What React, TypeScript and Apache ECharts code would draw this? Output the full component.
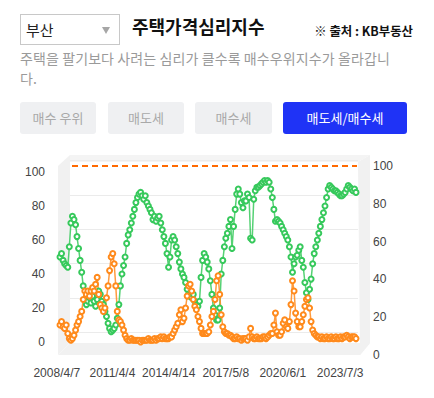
import React, { useEffect, useRef } from 'react';
import * as echarts from 'echarts';

const region = '부산';
const title = '주택가격심리지수';
const source = '※ 출처 : KB부동산';
const descriptionLines = ['주택을 팔기보다 사려는 심리가 클수록 매수우위지수가 올라갑니', '다.'];
const tabs = ['매수 우위', '매도세', '매수세', '매도세/매수세'];
const activeTab = 3;

// monthly observations starting 2008-04
const startYear = 2008;
const startMonth = 4;

// 매도세 (green)
const sellerSide = [
  50, 52, 48, 46, 45, 44, 56, 70, 74, 72,
  69, 62, 55, 48, 41, 33, 25, 22, 24, 26,
  23, 27, 24, 21, 25, 30, 28, 24, 22, 18,
  15, 11, 8, 6, 7, 8, 10, 14, 22, 33,
  40, 45, 50, 58, 63, 66, 70, 74, 78, 82,
  85, 87, 88, 86, 84, 86, 82, 80, 78, 76,
  72, 74, 71, 73, 74, 70, 66, 62, 58, 52,
  44, 50, 60, 62, 60, 56, 52, 47, 43, 40,
  38, 35, 31, 28, 27, 26, 28, 24, 22, 21,
  24, 38, 48, 52, 50, 47, 43, 36, 28, 20,
  16, 13, 13, 20, 40, 48, 56, 61, 64, 68,
  72, 55, 68, 78, 87, 90, 87, 82, 79, 83,
  83, 87, 85, 61, 60, 84, 89, 91, 91, 92,
  93, 94, 95, 94, 95, 94, 90, 85, 78, 71,
  72, 71, 70, 68, 66, 64, 62, 60, 56, 50,
  41, 46, 50, 51, 54, 56, 48, 44, 35, 29,
  25, 31, 37, 46, 52, 56, 60, 64, 68, 72,
  76, 80, 85, 90, 92, 91, 90, 89, 89, 88,
  87, 86, 86, 87, 88, 90, 92, 91, 90, 89,
  90, 88,
];

// 매수세 (orange)
const buyerSide = [
  10, 12, 9, 8, 10, 5, 2, 1, 2, 4,
  7, 10, 12, 15, 18, 25, 30, 28, 30, 27,
  30, 32, 30, 34, 38, 28, 22, 20, 18, 20,
  26, 33, 42, 50, 52, 46, 33, 18, 13, 12,
  10, 7, 4, 2, 1, 1, 2, 1, 1, 1,
  1, 1, 0, 1, 1, 1, 1, 2, 1, 1,
  1, 2, 1, 2, 2, 3, 2, 3, 2, 2,
  2, 3, 3, 5, 7, 9, 11, 16, 19, 12,
  14, 20, 27, 33, 34, 30, 25, 21, 19, 15,
  12, 8, 5, 5, 5, 5, 6, 10, 15, 18,
  25, 36, 39, 28, 16, 9, 6, 5, 5, 4,
  4, 3, 2, 2, 3, 2, 2, 1, 2, 2,
  2, 1, 3, 8, 3, 2, 2, 3, 2, 2,
  2, 3, 3, 2, 3, 4, 5, 5, 10, 17,
  6, 4, 4, 6, 11, 13, 9, 8, 12, 22,
  36, 30, 17, 12, 9, 9, 12, 16, 21, 25,
  26, 20, 12, 7, 5, 4, 3, 3, 2, 3,
  2, 2, 3, 2, 2, 3, 2, 2, 3, 2,
  2, 3, 2, 3, 3, 4, 3, 2, 3, 3,
  3, 2,
];

const tickLabels = ['2008/4/7', '2011/4/4', '2014/4/14', '2017/5/8', '2020/6/1', '2023/7/3'];
const referenceLevel = 100;
const axisMin = 0;
const axisMax = 100;
const axisStep = 20;

const GREEN = '#37c95c';
const ORANGE = '#ff8a1c';
const DASH = '#ff6a00';
const LABEL = '#444';
const WALL = '#f1f1f1';

const monthTime = (i: number) => {
  const t = startMonth - 1 + i;
  return new Date(startYear + Math.floor(t / 12), t % 12, 1).getTime();
};
const parseLabel = (s: string) => {
  const [y, m, d] = s.split('/').map(Number);
  return new Date(y, m - 1, d).getTime();
};
const fmt = (v: number) => {
  const d = new Date(v);
  return `${d.getFullYear()}/${d.getMonth() + 1}/${d.getDate()}`;
};

export default function App() {
  const ref = useRef<HTMLDivElement>(null);
  useEffect(() => {
    if (!ref.current) return;
    const chart = echarts.init(ref.current, undefined, { renderer: 'svg' });
    const times = sellerSide.map((_, i) => monthTime(i));
    const labelFont = { color: LABEL, fontFamily: 'Liberation Sans, Arial, sans-serif', fontSize: 12 };
    const poly = (points: number[][], fill: string) => ({
      type: 'polygon', z: -10, silent: true, shape: { points }, style: { fill },
    });
    chart.setOption({
      animation: false,
      graphic: [
        poly([[70, 155], [370, 155], [358, 162], [70, 162]], '#f4f4f4'),
        poly([[58, 355], [70, 343], [370, 343], [360, 355]], WALL),
        poly([[58, 166], [70, 155], [70, 343], [58, 355]], WALL),
        poly([[358, 162], [370, 155], [370, 343], [360, 355]], WALL),
      ],
      grid: [
        { left: 60, top: 172, width: 296, height: 170 },
        { left: 72, top: 166, width: 285, height: 189 },
        { left: 70, top: 160.7, width: 288, height: 171.5 },
      ],
      xAxis: [
        {
          gridIndex: 0, type: 'value', min: times[0], max: times[times.length - 1],
          axisLine: { show: false }, axisTick: { show: false }, splitLine: { show: false },
          axisLabel: {
            ...labelFont, margin: 25, padding: [0, 7, 0, 0],
            customValues: tickLabels.map(parseLabel),
            formatter: (v: number) => fmt(v),
            showMinLabel: true, showMaxLabel: true, hideOverlap: false,
          },
        },
        { gridIndex: 1, type: 'category', data: ['', ''], boundaryGap: false, show: false },
        { gridIndex: 2, type: 'value', min: 0, max: 1, show: false },
      ],
      yAxis: [
        {
          gridIndex: 0, type: 'value', min: axisMin, max: axisMax, interval: axisStep,
          axisLine: { show: false }, axisTick: { show: false }, splitLine: { show: false },
          axisLabel: { ...labelFont, margin: 15 },
        },
        {
          gridIndex: 1, type: 'value', position: 'right', offset: 8,
          min: axisMin, max: axisMax, interval: axisStep,
          axisLine: { show: false }, axisTick: { show: false }, splitLine: { show: false },
          axisLabel: { ...labelFont, margin: 8 },
        },
        {
          gridIndex: 2, type: 'value', min: axisMin, max: axisMax, interval: axisStep,
          axisLine: { show: false }, axisTick: { show: false }, axisLabel: { show: false },
          splitLine: { show: true, lineStyle: { color: '#ebebeb', width: 1 } },
        },
      ],
      series: [
        {
          type: 'line', xAxisIndex: 1, yAxisIndex: 1, z: 1,
          data: [referenceLevel, referenceLevel], symbol: 'none', silent: true,
          lineStyle: { color: DASH, width: 2, type: [6, 4] },
        },
        {
          name: '매도세', type: 'line', xAxisIndex: 0, yAxisIndex: 0,
          data: times.map((t, i) => [t, sellerSide[i]]),
          symbol: 'emptyCircle', symbolSize: 5, showAllSymbol: true,
          lineStyle: { color: GREEN, width: 1.5, opacity: 0.85 },
          itemStyle: { color: GREEN, borderWidth: 1.4 },
        },
        {
          name: '매수세', type: 'line', xAxisIndex: 0, yAxisIndex: 0,
          data: times.map((t, i) => [t, buyerSide[i]]),
          symbol: 'emptyCircle', symbolSize: 5, showAllSymbol: true,
          lineStyle: { color: ORANGE, width: 1.5, opacity: 0.85 },
          itemStyle: { color: ORANGE, borderWidth: 1.4 },
        },
      ],
    });
    return () => chart.dispose();
  }, []);

  const kr = "'Noto Sans CJK KR', 'Noto Sans', sans-serif";
  const buttons = [
    { left: 20, width: 76 },
    { left: 108, width: 76 },
    { left: 195, width: 77 },
    { left: 283, width: 124 },
  ];

  return (
    <div style={{ position: 'fixed', left: 0, top: 0, width: 434, height: 398, background: '#fff', fontFamily: kr, overflow: 'hidden' }}>
      <div ref={ref} style={{ position: 'absolute', left: 0, top: 0, width: 434, height: 398 }} />
      <div style={{ position: 'absolute', left: 20, top: 14, width: 100, height: 31, boxSizing: 'border-box', border: '1px solid #c8c8c8', background: '#fff' }}>
        <div style={{ position: 'absolute', left: 5, top: 5, fontSize: 15, lineHeight: '20px', color: '#222' }}>{region}</div>
        <div style={{ position: 'absolute', left: 81, top: 12, width: 0, height: 0, borderLeft: '4.5px solid transparent', borderRight: '4.5px solid transparent', borderTop: '7px solid #a6a6a6' }} />
      </div>
      <div style={{ position: 'absolute', left: 132, top: 15, fontSize: 18, lineHeight: '22px', fontWeight: 700, color: '#111', whiteSpace: 'nowrap' }}>{title}</div>
      <div style={{ position: 'absolute', right: 21, top: 23, fontSize: 12.4, lineHeight: '17px', fontWeight: 700, color: '#111', whiteSpace: 'nowrap' }}>{source}</div>
      <div style={{ position: 'absolute', left: 20, top: 48, fontSize: 14, letterSpacing: 0.1, lineHeight: '20px', color: '#9a9a9a', whiteSpace: 'nowrap' }}>
        {descriptionLines.map((l, i) => (<div key={i}>{l}</div>))}
      </div>
      {tabs.map((t, i) => (
        <div key={t} style={{
          position: 'absolute', left: buttons[i].left, top: 102, width: buttons[i].width, height: 32,
          borderRadius: 3, background: i === activeTab ? '#1f33f6' : '#eff0f2',
          color: i === activeTab ? '#fff' : '#a9a9a9', fontSize: 13, lineHeight: '32px', textAlign: 'center', whiteSpace: 'nowrap',
        }}>{t}</div>
      ))}
    </div>
  );
}
